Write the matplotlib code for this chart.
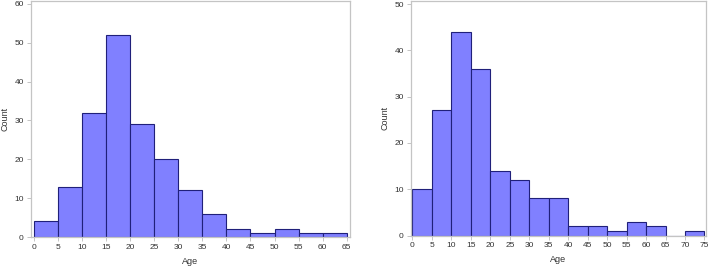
import matplotlib
matplotlib.use("Agg")
import matplotlib.pyplot as plt
import numpy as np

# histogram counts per 5-year age bin
left_counts  = [4, 13, 32, 52, 29, 20, 12, 6, 2, 1, 2, 1, 1]
right_counts = [10, 27, 44, 36, 14, 12, 8, 8, 2, 2, 1, 3, 2, 0, 1]
bin_width = 5

plt.rcParams['font.family'] = ['Liberation Sans', 'DejaVu Sans']

fig = plt.figure(figsize=(7.09, 2.66), dpi=100)

W, H = 709.0, 266.0
def axes_px(l, t, r, b):
    return fig.add_axes([l / W, 1 - b / H, (r - l) / W, (b - t) / H])

ax1 = axes_px(30.7, 1, 350, 237)
ax2 = axes_px(410.7, 1, 706, 235.5)

fill = '#8080ff'
edge = '#20207a'
spine = '#c4c4c4'
txt = '#333333'

def draw(ax, counts, xlim, ylim, yticks, label_x):
    edges = np.arange(len(counts)) * bin_width
    ax.bar(edges, counts, width=bin_width, align='edge',
           color=fill, edgecolor=edge, linewidth=0.8)
    ax.set_xlim(*xlim)
    ax.set_ylim(*ylim)
    ax.set_xticks(np.arange(0, len(counts) * bin_width + 1, bin_width))
    ax.set_yticks(yticks)
    for s in ax.spines.values():
        s.set_color(spine)
        s.set_linewidth(0.9)
    ax.tick_params(colors=spine, labelcolor=txt, labelsize=6, length=3, width=0.7, pad=2)
    ax.set_xlabel('Age', fontsize=6.5, color=txt, labelpad=4)
    ax.set_ylabel('Count', fontsize=6.5, color=txt)
    ax.yaxis.set_label_coords(label_x, 0.5)

draw(ax1, left_counts, (-0.69, 65.69), (0, 60.77), np.arange(0, 61, 10),
     (9 - 30.7) / 319.3)
draw(ax2, right_counts, (-0.46, 75.4), (0, 50.65), np.arange(0, 51, 10),
     (390 - 410.7) / 295.3)

fig.savefig('out.png', dpi=100)
